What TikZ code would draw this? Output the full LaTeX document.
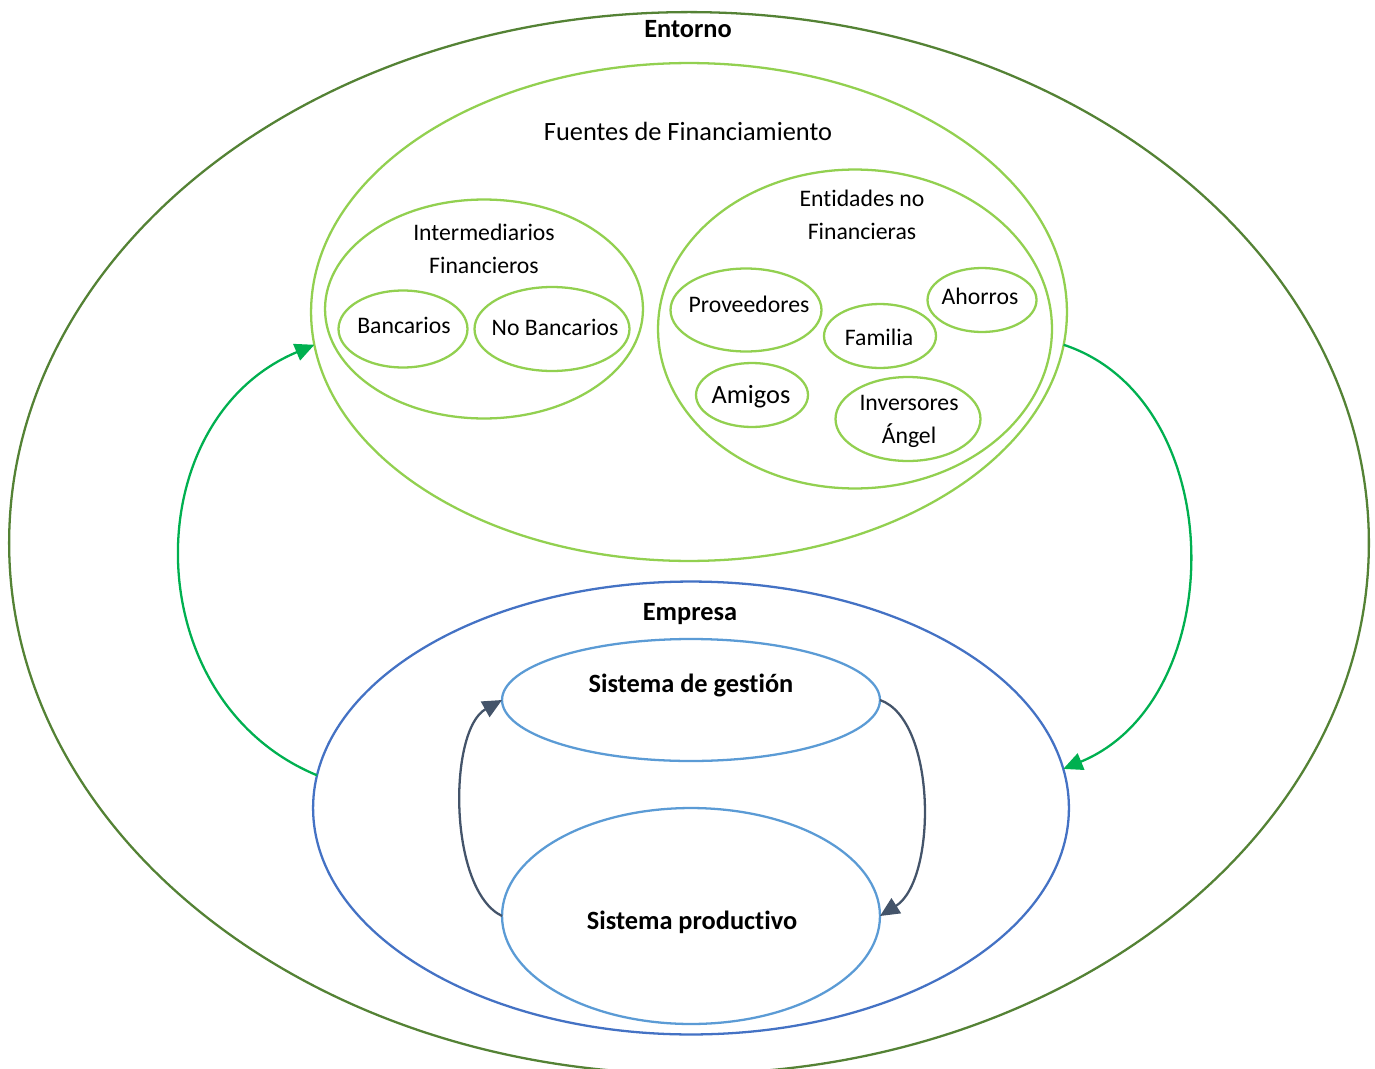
\documentclass[tikz,border=0pt]{standalone}
\usepackage{fontspec}
\setmainfont{Carlito}[Ligatures={NoCommon}]
\usetikzlibrary{shapes.geometric,arrows.meta}
\definecolor{envgreen}{HTML}{548235}
\definecolor{lightgreen}{HTML}{92D050}
\definecolor{firmblue}{HTML}{4472C4}
\definecolor{sysblue}{HTML}{5B9BD5}
\definecolor{flowgreen}{HTML}{00B050}
\definecolor{slate}{HTML}{44546A}
\tikzset{
  oval/.style={ellipse, draw, line width=1.3pt, inner sep=0pt, outer sep=0pt},
  src/.style={oval, draw=lightgreen},
  small/.style={font=\fontsize{13.5}{18.8}\selectfont, align=center, inner sep=0pt},
  big/.style={font=\fontsize{15}{19}\selectfont, align=center, inner sep=0pt},
  bigbold/.style={font=\fontsize{15}{19}\selectfont\bfseries, align=center, inner sep=0pt},
  flow/.style={line width=1.3pt, -{Triangle[length=11pt,width=10pt]}},
}
\begin{document}
\begin{tikzpicture}[x=0.02cm,y=-0.02cm]
\useasboundingbox (0,0) rectangle (1375,1068);
\begin{scope}
\clip (0,0) rectangle (1375,1068);
% environment
\node[oval, draw=envgreen, minimum width=27.2cm, minimum height=21.24cm] (entorno) at (689,543) {};
\end{scope}
\node[bigbold] (entornoL) at (688,29) {Entorno};

% financing sources
\node[src, minimum width=15.12cm, minimum height=9.96cm] (fuentes) at (689,312) {};
\node[big] (fuentesL) at (688,131) {Fuentes de Financiamiento};

\node[src, minimum width=6.36cm, minimum height=4.38cm] (inter) at (484,309) {};
\node[small] (interL) at (484,249) {Intermediarios\\Financieros};
\node[src, minimum width=2.58cm, minimum height=1.54cm] (banc) at (403,329) {};
\node[small] (bancL) at (404,325) {Bancarios};
\node[src, minimum width=3.1cm, minimum height=1.68cm] (nobanc) at (552,329) {};
\node[small] (nobancL) at (555,327) {No Bancarios};

\node[src, minimum width=7.88cm, minimum height=6.38cm] (entid) at (855,329) {};
\node[small] (entidL) at (862,215) {Entidades no\\Financieras};
\node[src, minimum width=3.02cm, minimum height=1.66cm] (prov) at (746,310) {};
\node[small] (provL) at (749,304) {Proveedores};
\node[src, minimum width=2.24cm, minimum height=1.28cm] (fam) at (880,336) {};
\node[small] (famL) at (879,337) {Familia};
\node[src, minimum width=2.18cm, minimum height=1.28cm] (ahor) at (982,300) {};
\node[small] (ahorL) at (980,296) {Ahorros};
\node[src, minimum width=2.24cm, minimum height=1.28cm] (amig) at (752,395) {};
\node[big] (amigL) at (751,397) {Amigos};
\node[src, minimum width=2.9cm, minimum height=1.68cm] (inv) at (908,419) {};
\node[small] (invL) at (909,421) {Inversores\\Ángel};

% the firm
\node[oval, draw=firmblue, minimum width=15.12cm, minimum height=9.06cm] (empresa) at (691,808) {};
\node[bigbold] (empresaL) at (690,614) {Empresa};
\node[oval, draw=sysblue, minimum width=7.56cm, minimum height=2.44cm] (gestion) at (691,700) {};
\node[bigbold] (gestionL) at (691,685) {Sistema de gestión};
\node[oval, draw=sysblue, minimum width=7.56cm, minimum height=4.32cm] (prod) at (691,916) {};
\node[bigbold] (prodL) at (692,922) {Sistema productivo};

% flows between firm and financing sources
\draw[flow, flowgreen] (empresa.175) .. controls (135,700) and (135,420) .. (fuentes.185);
\draw[flow, flowgreen] (fuentes.-5) .. controls (1231,400) and (1231,700) .. (empresa.6);

% flows inside the firm
\draw[flow, slate] (prod.west) .. controls (448,890) and (448,730) .. (gestion.west);
\draw[flow, slate] (gestion.east) .. controls (937,720) and (937,880) .. (prod.east);
\end{tikzpicture}
\end{document}
